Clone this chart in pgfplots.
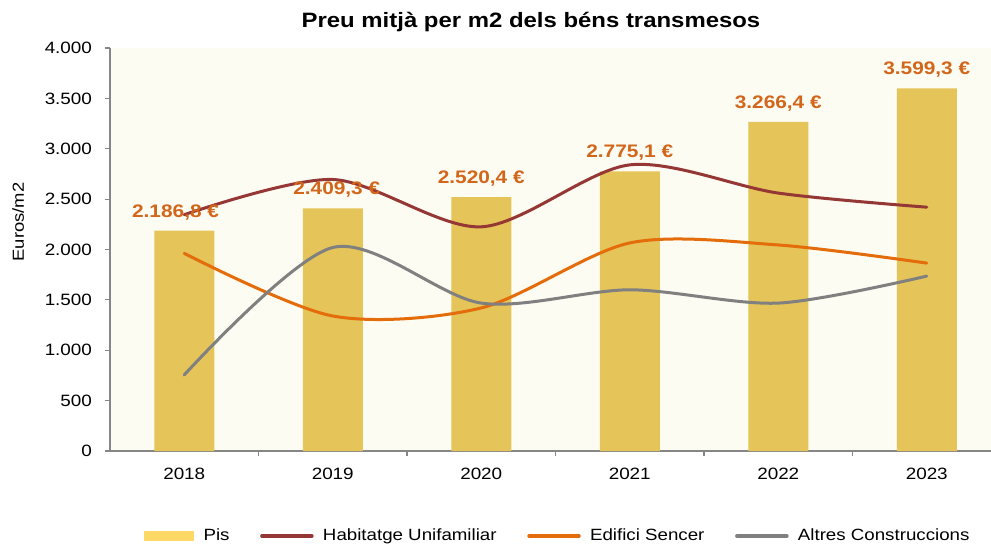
\documentclass[border=0pt]{standalone}
\usepackage{pgfplots}
\pgfplotsset{compat=1.18}
\usepackage{fontspec}
\setmainfont{Liberation Sans}[FakeStretch=1.15]
\definecolor{cream}{RGB}{253,252,243}
\definecolor{barcol}{RGB}{229,196,90}
\definecolor{legyel}{RGB}{255,217,102}
\definecolor{habcol}{RGB}{149,55,53}
\definecolor{edicol}{RGB}{228,108,10}
\definecolor{altcol}{RGB}{128,128,128}
\definecolor{labcol}{RGB}{210,102,26}
\definecolor{axcol}{RGB}{134,134,134}
\begin{document}
\begin{tikzpicture}
\path[use as bounding box] (0,0) rectangle (743.25pt,409.5pt);
\begin{axis}[
  at={(82.5pt,71.25pt)}, anchor=south west,
  scale only axis, width=668.25pt, height=302.25pt,
  xmin=-0.5, xmax=5.5, ymin=0, ymax=4000,
  axis lines*=left,
  axis line style={draw=axcol, line width=0.9pt},
  axis background/.style={fill=cream},
  xtick={0,1,2,3,4,5},
  xticklabels={2018,2019,2020,2021,2022,2023},
  minor xtick={0.5,1.5,2.5,3.5,4.5},
  every major x tick/.style={draw=none},
  ytick={0,500,...,4000},
  tick align=outside,
  major tick length=4pt, minor tick length=4pt,
  tick style={draw=axcol, line width=0.9pt},
  /pgf/number format/assume math mode=true,
  /pgf/number format/.cd, 1000 sep={.}, /pgfplots/.cd,
  tick label style={font=\fontsize{12.3}{14}\selectfont, text=black},
  xticklabel style={yshift=-5pt},
  yticklabel style={xshift=-6pt},
  ylabel={Euros/m2},
  ylabel style={at={(axis description cs:-0.103,0.568)}, anchor=center, font=\fontsize{12}{14}\selectfont},
  every axis title shift=0pt,
  title={\bfseries Preu mitjà per m2 dels béns transmesos},
  title style={at={(axis description cs:0.4725,1.0645)}, anchor=center, font=\fontsize{15.6}{18}\selectfont},
  legend columns=4,
  legend style={at={(axis description cs:0.503,-0.211)}, anchor=center, draw=none, fill=none,
    font=\fontsize{12.2}{14}\selectfont,
    /tikz/every odd column/.append style={column sep=5pt},
    /tikz/every even column/.append style={column sep=21pt}},
  legend image code/.code={\draw[#1, line width=2.6pt] (0pt,0pt) -- (37.5pt,0pt);},
]
\addplot[ybar, bar width=45pt, fill=barcol, draw=none,
  nodes near coords={\pgfmathprintnumber[fixed,fixed zerofill,precision=1,1000 sep={.},dec sep={,}]{\pgfplotspointmeta}~€},
  every node near coord/.append style={font=\fontsize{13.6}{15}\selectfont\bfseries, text=labcol, anchor=south, yshift=4.5pt},
  coordinate style/.condition={x==0}{xshift=-6.5pt},
  coordinate style/.condition={x==1}{xshift=3pt},
  legend image code/.code={\fill[legyel] (0pt,-4pt) rectangle (37.5pt,4pt);}]
  coordinates {(0,2186.8) (1,2409.3) (2,2520.4) (3,2775.1) (4,3266.4) (5,3599.3)};
\addlegendentry{Pis}
\addplot[habcol, line width=2.25pt, smooth, tension=0.5, line cap=round]
  coordinates {(0,2345) (1,2695) (2,2225) (3,2840) (4,2560) (5,2420)};
\addlegendentry{Habitatge Unifamiliar}
\addplot[edicol, line width=2.25pt, smooth, tension=0.5, line cap=round]
  coordinates {(0,1962) (1,1340) (2,1420) (3,2065) (4,2045) (5,1865)};
\addlegendentry{Edifici Sencer}
\addplot[altcol, line width=2.25pt, smooth, tension=0.5, line cap=round]
  coordinates {(0,755) (1,2020) (2,1468) (3,1600) (4,1468) (5,1736)};
\addlegendentry{Altres Construccions}
\end{axis}
\end{tikzpicture}
\end{document}
